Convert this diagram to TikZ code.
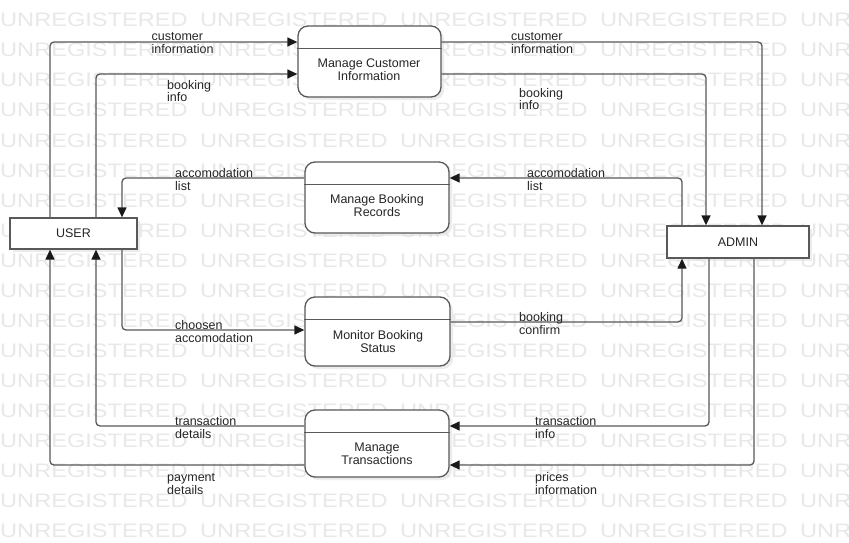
\documentclass[tikz,border=0pt]{standalone}
\usepackage{graphicx}
\usepackage{fontspec}
\setmainfont{Liberation Sans}
\usepackage{tikz}
\usetikzlibrary{
  arrows.meta,
  positioning,
  shadows,
}
\tikzstyle{flow} = [
  -{Triangle[length=10pt,width=9pt,black!90]},
  line width=1.3pt,
  draw=black!65,
  rounded corners=4pt,
]
\tikzstyle{entity} = [
  draw=black!65,
  line width=1.3pt,
  fill=white,
  drop shadow={shadow xshift=3pt, shadow yshift=-3pt, fill=black!12, opacity=0.6},
  font=\fontsize{12.5}{13}\selectfont,
  text=black!85,
]
\tikzstyle{process} = [entity, rounded corners=10pt]
\tikzstyle{divider} = [draw=black!65, line width=1.3pt]
\tikzstyle{ptext} = [
  align=center,
  inner sep=0pt,
  font=\fontsize{12.5}{13}\selectfont,
  text=black!85,
]
\tikzstyle{flowlabel} = [
  align=left,
  anchor=base west,
  inner sep=0pt,
  font=\fontsize{12.5}{13}\selectfont,
  text=black!85,
]
\tikzstyle{watermark} = [
  anchor=base west,
  inner sep=0pt,
  text=black!9,
  font=\fontsize{19.5}{20}\selectfont,
]

\begin{document}
\begin{tikzpicture}[x=1pt, y=-1pt]

        \fill [white] (0,0) rectangle (849,543);
        \useasboundingbox (0,0) rectangle (849,543);

        \begin{scope}
          \clip (0,0) rectangle (849,543);
          \foreach \r in {0,...,17} {
            \foreach \c in {0,...,4} {
              \node [watermark] (wm-\r-\c) at (\c * 200, 27 + \r * 30) {\scalebox{1.21}[1]{UNREGISTERED}};
            }
          }
        \end{scope}

        \node [entity, minimum width=127pt, minimum height=31pt] (user) at (73.5,233.5) {USER};

        \node [entity, minimum width=142pt, minimum height=32pt] (admin) at (738,242) {ADMIN};

        \node [process, minimum width=143pt, minimum height=71pt] (mci) at (369.5,61.5) {};
        \node [process, minimum width=144pt, minimum height=71pt] (mbr) at (377,197.5) {};
        \node [process, minimum width=145pt, minimum height=69pt] (mbs) at (377.5,331.5) {};
        \node [process, minimum width=144pt, minimum height=67pt] (mt) at (377,443.5) {};

        \foreach \p in {mci,mbr,mbs,mt} {
          \draw [divider] ([yshift=-23pt]\p.north west) -- ([yshift=-23pt]\p.north east);
        }

        \node [ptext] (mci-t) at (369,70) {Manage Customer\\Information};
        \node [ptext] (mbr-t) at (377,206) {Manage Booking\\Records};
        \node [ptext] (mbs-t) at (378,342) {Monitor Booking\\Status};
        \node [ptext] (mt-t) at (377,454) {Manage\\Transactions};

        \draw [flow] ([xshift=-23.5pt]user.north) |- ([yshift=19.5pt]mci.west);
        \draw [flow] ([xshift=22.5pt]user.north) |- ([yshift=-12.5pt]mci.west);
        \draw [flow] ([yshift=19.5pt]mbr.west) -| ([xshift=48.5pt]user.north);
        \draw [flow] ([xshift=48.5pt]user.south) |- ([yshift=1.5pt]mbs.west);
        \draw [flow] ([yshift=17.5pt]mt.west) -| ([xshift=22.5pt]user.south);
        \draw [flow] ([yshift=-21.5pt]mt.west) -| ([xshift=-23.5pt]user.south);

        \draw [flow] ([yshift=19.5pt]mci.east) -| ([xshift=24pt]admin.north);
        \draw [flow] ([yshift=-12.5pt]mci.east) -| ([xshift=-32pt]admin.north);
        \draw [flow] ([xshift=-56pt]admin.north) |- ([yshift=19.5pt]mbr.east);
        \draw [flow] ([yshift=9.5pt]mbs.east) -| ([xshift=-56pt]admin.south);
        \draw [flow] ([xshift=-29pt]admin.south) |- ([yshift=17.5pt]mt.east);
        \draw [flow] ([xshift=16pt]admin.south) |- ([yshift=-21.5pt]mt.east);

        \node [flowlabel] (l-custL) at (151.5,53.5) {customer\\information};
        \node [flowlabel] (l-bookL) at (167,102) {booking\\info};
        \node [flowlabel] (l-custR) at (511,53.5) {customer\\information};
        \node [flowlabel] (l-bookR) at (519,110) {booking\\info};
        \node [flowlabel] (l-accL) at (175,190.5) {accomodation\\list};
        \node [flowlabel] (l-accR) at (527,190.5) {accomodation\\list};
        \node [flowlabel] (l-chos) at (175,342.5) {choosen\\accomodation};
        \node [flowlabel] (l-conf) at (519,334) {booking\\confirm};
        \node [flowlabel] (l-trdL) at (175,438) {transaction\\details};
        \node [flowlabel] (l-triR) at (535,438) {transaction\\info};
        \node [flowlabel] (l-pay) at (167,494.5) {payment\\details};
        \node [flowlabel] (l-price) at (535,494.5) {prices\\information};
      \end{tikzpicture}
\end{document}
